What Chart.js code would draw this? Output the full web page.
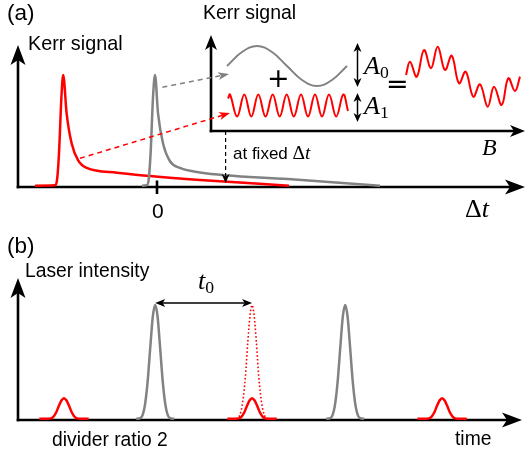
<!DOCTYPE html>
<html>
<head>
<meta charset="utf-8">
<script src="https://cdn.jsdelivr.net/npm/chart.js@4.4.0/dist/chart.umd.min.js"></script>
<style>
  body { margin: 0; background: #fff; }
  #wrap { position: relative; width: 525px; height: 457px; overflow: hidden; }
  canvas { position: absolute; left: 0; }
  .lbl { position: absolute; white-space: nowrap; line-height: 1; color: #000;
         font-family: "Liberation Sans", Arial, sans-serif; }
  .math { font-family: "Liberation Serif", "Times New Roman", serif; }
  .op { font-family: "DejaVu Sans", sans-serif; }
  .sub { font-size: 0.68em; position: relative; top: 0.22em; font-style: normal; }
</style>
</head>
<body>
<div id="wrap">
  <canvas id="chartA" width="525" height="230" style="top:0"></canvas>
  <canvas id="chartB" width="525" height="227" style="top:230px"></canvas>

  <div class="lbl" style="left:7px;top:2px;font-size:22.5px">(a)</div>
  <div class="lbl" style="left:28px;top:34px;font-size:19.8px">Kerr signal</div>
  <div class="lbl" style="left:203px;top:3px;font-size:19.5px">Kerr signal</div>
  <div class="lbl" style="left:152px;top:200px;font-size:21px">0</div>
  <div class="lbl math" style="left:465px;top:196px;font-size:26px">Δ<i>t</i></div>
  <div class="lbl" style="left:233px;top:143px;font-size:17px">at fixed <span class="math" style="font-size:19.5px">Δ<i>t</i></span></div>
  <div class="lbl op" style="left:267px;top:64px;font-size:27px">+</div>
  <div class="lbl op" style="left:386px;top:70px;font-size:27px">=</div>
  <div class="lbl math" style="left:364px;top:53px;font-size:26px"><i>A</i><span class="sub">0</span></div>
  <div class="lbl math" style="left:364px;top:93px;font-size:26px"><i>A</i><span class="sub">1</span></div>
  <div class="lbl math" style="left:482px;top:135px;font-size:24px"><i>B</i></div>

  <div class="lbl" style="left:7px;top:235px;font-size:22.5px">(b)</div>
  <div class="lbl" style="left:25px;top:261px;font-size:19.3px">Laser intensity</div>
  <div class="lbl math" style="left:198px;top:268px;font-size:26px"><i>t</i><span class="sub">0</span></div>
  <div class="lbl" style="left:52px;top:430px;font-size:19.3px">divider ratio 2</div>
  <div class="lbl" style="left:455px;top:429px;font-size:19.3px">time</div>
</div>

<script>
// panel (a): Kerr signal vs pump-probe delay (arb. units)
var redDelay  = [-6.1, -5.1, -5.0, -4.9, -4.78, -4.69, -4.52, -4.27, -3.95, -3.52, -2.0, -0.35, 2.15, 6.6];
var redKerr   = [0.012, 0.015, 0.06, 0.3, 0.8, 1.0, 0.66, 0.39, 0.24, 0.17, 0.128, 0.098, 0.0625, 0.012];
var grayDelay = [-0.75, -0.52, -0.42, -0.32, -0.2, -0.1, 0.05, 0.3, 0.65, 1.15, 2.15, 6.55, 11.15];
var grayKerr  = [0.012, 0.015, 0.06, 0.3, 0.8, 1.0, 0.66, 0.39, 0.23, 0.17, 0.13, 0.071, 0.012];

// inset: Kerr signal vs field B at fixed delay
var slowB = [1.6, 3.1, 4.6, 6.1, 7.6, 9.1, 10.6, 12.1, 13.6];
var slowV = [6.5, 7.9, 8.5, 7.9, 6.5, 5.1, 4.5, 5.1, 6.5];
var fastB = [1.7, 1.9, 2.61, 3.33, 4.03, 4.73, 5.45, 6.17, 6.87, 7.57, 8.28, 9.0, 9.7, 10.4, 11.1, 11.8, 12.52, 13.23, 13.7];
var fastV = [3.25, 3.65, 1.45, 3.65, 1.45, 3.65, 1.45, 3.65, 1.45, 3.65, 1.45, 3.65, 1.45, 3.65, 1.45, 3.65, 1.45, 3.65, 2.0];
var sumB  = [19.5, 19.9, 20.57, 21.3, 22.0, 22.67, 23.4, 24.07, 24.8, 25.47, 26.23, 26.9, 27.67, 28.3, 29.07, 29.73, 30.4, 30.9];
var sumV  = [5.6, 6.93, 5.43, 8.1, 6.27, 8.43, 6.1, 7.53, 4.77, 5.93, 3.43, 4.67, 2.43, 4.43, 2.6, 5.27, 4.0, 5.43];

// dashed pointers: start in (delay, Kerr), end in (B, inset Kerr)
var pointerArrows = [
  { x1: 0.27, y1: 0.89, x2: 1.8, y2: 5.7, color: '#808080' },
  { x1: -3.85, y1: 0.256, x2: 1.9, y2: 1.8, color: '#ff0000' }
];
var fixedDelay = 3.43;            // "at fixed Δt" marker
var fixedDelayFrom = 0.5, fixedDelayTo = 0.036;
var ampArrowB = 14.65;            // A0 / A1 extent markers
var ampA0 = [8.8, 4.4];
var ampA1 = [3.8, 0.9];

// panel (b): laser pulse train
var grayPulseIntensity = [0.01, 0.02, 0.12, 0.33, 0.65, 0.9, 1.0, 0.9, 0.65, 0.33, 0.12, 0.02, 0.01];
var grayPulse1Time = [1.26, 1.31, 1.35, 1.38, 1.41, 1.435, 1.46, 1.485, 1.51, 1.54, 1.57, 1.61, 1.66];
var grayPulse2Time = [3.26, 3.31, 3.35, 3.38, 3.41, 3.435, 3.46, 3.485, 3.51, 3.54, 3.57, 3.61, 3.66];
var redPulseIntensity = [0.01, 0.01, 0.012, 0.03, 0.07, 0.13, 0.172, 0.19, 0.172, 0.13, 0.07, 0.03, 0.012, 0.01, 0.01];
var redPulse1Time = [0.24, 0.3, 0.35, 0.39, 0.42, 0.45, 0.475, 0.5, 0.525, 0.55, 0.58, 0.61, 0.65, 0.7, 0.76];
var redPulse2Time = [2.22, 2.28, 2.33, 2.37, 2.4, 2.43, 2.455, 2.48, 2.505, 2.53, 2.56, 2.59, 2.63, 2.68, 2.74];
var redPulse3Time = [4.22, 4.28, 4.33, 4.37, 4.4, 4.43, 4.455, 4.48, 4.505, 4.53, 4.56, 4.59, 4.63, 4.68, 4.74];
var blockedPulseTime = [2.31, 2.35, 2.38, 2.41, 2.435, 2.46, 2.48, 2.5, 2.525, 2.55, 2.58, 2.61, 2.65];
var blockedPulseIntensity = [0.01, 0.04, 0.15, 0.38, 0.68, 0.92, 1.0, 0.92, 0.68, 0.38, 0.15, 0.04, 0.01];
var periodMarker = [1.46, 2.48, 1.017];  // t0 arrow: from, to, height

var GRAY = '#828282', RED = '#ff0000';

function pts(xs, ys) {
  return xs.map(function (x, i) { return { x: x, y: ys[i] }; });
}

function curve(xs, ys, color, extra) {
  var ds = {
    data: pts(xs, ys),
    showLine: true,
    borderColor: color,
    borderWidth: 2.5,
    pointRadius: 0,
    pointHoverRadius: 0,
    fill: false,
    clip: false,
    cubicInterpolationMode: 'monotone'
  };
  for (var k in extra) { ds[k] = extra[k]; }
  return ds;
}

function head(ctx, x, y, ang, len, half, notch) {
  ctx.save();
  ctx.translate(x, y);
  ctx.rotate(ang);
  ctx.beginPath();
  ctx.moveTo(0, 0);
  ctx.lineTo(-len, half);
  ctx.lineTo(-len + notch, 0);
  ctx.lineTo(-len, -half);
  ctx.closePath();
  ctx.fill();
  ctx.restore();
}

function arrow(ctx, x1, y1, x2, y2, o) {
  var ang = Math.atan2(y2 - y1, x2 - x1);
  var back = o.len - o.notch;
  var c = Math.cos(ang), s = Math.sin(ang);
  var sx = x1, sy = y1;
  if (o.both) { sx = x1 + c * back; sy = y1 + s * back; }
  ctx.save();
  ctx.strokeStyle = o.color;
  ctx.fillStyle = o.color;
  ctx.lineWidth = o.width;
  ctx.setLineDash(o.dash || []);
  ctx.beginPath();
  ctx.moveTo(sx, sy);
  ctx.lineTo(x2 - c * back, y2 - s * back);
  ctx.stroke();
  ctx.setLineDash([]);
  head(ctx, x2, y2, ang, o.len, o.half, o.notch);
  if (o.both) { head(ctx, x1, y1, ang + Math.PI, o.len, o.half, o.notch); }
  ctx.restore();
}

var bigAxis = { color: '#000', width: 2.6, len: 20, half: 7.5, notch: 5 };
var smallAxis = { color: '#000', width: 2.6, len: 15, half: 6, notch: 4 };

var panelAAxes = {
  id: 'panelAAxes',
  beforeDatasetsDraw: function (chart) {
    var ctx = chart.ctx, sx = chart.scales.x, sy = chart.scales.y;
    var sb = chart.scales.xB, sv = chart.scales.yB;
    var x0 = sx.getPixelForValue(sx.min), y0 = sy.getPixelForValue(0);
    arrow(ctx, x0 - 1.3, y0, sx.getPixelForValue(sx.max), y0, bigAxis);
    arrow(ctx, x0, y0 + 1.3, x0, sy.getPixelForValue(1.268), bigAxis);
    // zero tick
    var tx = sx.getPixelForValue(0);
    ctx.save();
    ctx.strokeStyle = '#000';
    ctx.lineWidth = 2.6;
    ctx.beginPath();
    ctx.moveTo(tx, y0 - 6.5);
    ctx.lineTo(tx, y0 + 7);
    ctx.stroke();
    ctx.restore();
    // inset axes
    var bx = sb.getPixelForValue(0), by = sv.getPixelForValue(0);
    arrow(ctx, bx - 1.3, by, sb.getPixelForValue(sb.max), by, smallAxis);
    arrow(ctx, bx, by + 1.3, bx, sv.getPixelForValue(9.6), smallAxis);
  },
  afterDatasetsDraw: function (chart) {
    var ctx = chart.ctx, sx = chart.scales.x, sy = chart.scales.y;
    var sb = chart.scales.xB, sv = chart.scales.yB;
    pointerArrows.forEach(function (a) {
      arrow(ctx, sx.getPixelForValue(a.x1), sy.getPixelForValue(a.y1),
        sb.getPixelForValue(a.x2), sv.getPixelForValue(a.y2),
        { color: a.color, width: 1.5, dash: [5, 4], len: 11, half: 4, notch: 3 });
    });
    var fx = sx.getPixelForValue(fixedDelay);
    arrow(ctx, fx, sy.getPixelForValue(fixedDelayFrom), fx, sy.getPixelForValue(fixedDelayTo),
      { color: '#000', width: 1.2, dash: [4, 3], len: 9, half: 4, notch: 2.5 });
    var ax = sb.getPixelForValue(ampArrowB);
    [ampA0, ampA1].forEach(function (r) {
      arrow(ctx, ax, sv.getPixelForValue(r[0]), ax, sv.getPixelForValue(r[1]),
        { color: '#000', width: 1.5, len: 9, half: 4, notch: 2.5, both: true });
    });
  }
};

new Chart(document.getElementById('chartA'), {
  type: 'scatter',
  data: {
    datasets: [
      curve(grayDelay, grayKerr, GRAY),
      curve(redDelay, redKerr, RED),
      curve(slowB, slowV, GRAY, { xAxisID: 'xB', yAxisID: 'yB', cubicInterpolationMode: 'default', tension: 0.4, borderWidth: 2 }),
      curve(fastB, fastV, RED, { xAxisID: 'xB', yAxisID: 'yB', cubicInterpolationMode: 'default', tension: 0.4, borderWidth: 2 }),
      curve(sumB, sumV, RED, { xAxisID: 'xB', yAxisID: 'yB', cubicInterpolationMode: 'default', tension: 0.4, borderWidth: 2 })
    ]
  },
  options: {
    responsive: false,
    animation: false,
    events: [],
    layout: { padding: { left: 18, right: 0, top: 30, bottom: 43 } },
    plugins: { legend: { display: false }, tooltip: { enabled: false } },
    scales: {
      x: { type: 'linear', display: false, min: -6.95, max: 18.4 },
      y: { type: 'linear', display: false, min: 0, max: 1.402 },
      xB: { axis: 'x', type: 'linear', display: false, min: -19.3, max: 31.4 },
      yB: { axis: 'y', type: 'linear', display: false, min: -5.6, max: 10.1 }
    }
  },
  plugins: [panelAAxes]
});

var panelBAxes = {
  id: 'panelBAxes',
  beforeDatasetsDraw: function (chart) {
    var ctx = chart.ctx, sx = chart.scales.x, sy = chart.scales.y;
    var x0 = sx.getPixelForValue(sx.min), y0 = sy.getPixelForValue(0);
    arrow(ctx, x0 - 1.3, y0, sx.getPixelForValue(sx.max), y0, bigAxis);
    arrow(ctx, x0, y0 + 1.3, x0, sy.getPixelForValue(sy.max), bigAxis);
  },
  afterDatasetsDraw: function (chart) {
    var ctx = chart.ctx, sx = chart.scales.x, sy = chart.scales.y;
    var py = sy.getPixelForValue(periodMarker[2]);
    arrow(ctx, sx.getPixelForValue(periodMarker[0]), py, sx.getPixelForValue(periodMarker[1]), py,
      { color: '#000', width: 1.5, len: 10, half: 4, notch: 2.5, both: true });
  }
};

new Chart(document.getElementById('chartB'), {
  type: 'scatter',
  data: {
    datasets: [
      curve(redPulse1Time, redPulseIntensity, RED),
      curve(grayPulse1Time, grayPulseIntensity, GRAY),
      curve(blockedPulseTime, blockedPulseIntensity, RED, { borderWidth: 1.6, borderDash: [1.6, 2.2] }),
      curve(redPulse2Time, redPulseIntensity, RED),
      curve(grayPulse2Time, grayPulseIntensity, GRAY),
      curve(redPulse3Time, redPulseIntensity, RED)
    ]
  },
  options: {
    responsive: false,
    animation: false,
    events: [],
    layout: { padding: { left: 18, right: 3, top: 48, bottom: 37 } },
    plugins: { legend: { display: false }, tooltip: { enabled: false } },
    scales: {
      x: { type: 'linear', display: false, min: 0.016, max: 5.321 },
      y: { type: 'linear', display: false, min: 0, max: 1.235 }
    }
  },
  plugins: [panelBAxes]
});
</script>
</body>
</html>
